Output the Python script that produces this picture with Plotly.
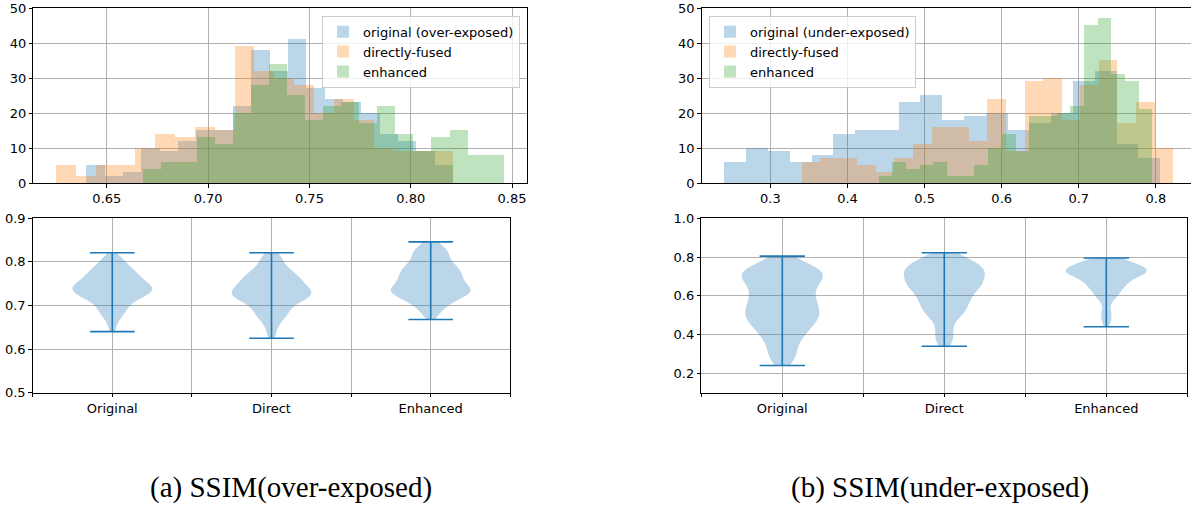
import numpy as np
import plotly.graph_objects as go

# ---------------- data ----------------
series_names_over = ["original (over-exposed)", "directly-fused", "enhanced"]
series_names_under = ["original (under-exposed)", "directly-fused", "enhanced"]
violin_labels = ["Original", "Direct", "Enhanced"]

# over-exposed SSIM histograms: 20 equal bins between min and max of each series
over_original_counts = [5, 2, 3, 10, 9, 12, 15, 15, 22, 38, 32, 41, 27, 24, 23, 20, 14, 12, 9, 5]
over_direct_counts = [5, 2, 5, 5, 10, 14, 13, 16, 15, 39, 32, 30, 28, 20, 24, 18, 10, 9, 9, 9]
over_enhanced_counts = [4, 6, 6, 13, 11, 20, 28, 34, 25, 18, 22, 23, 17, 22, 14, 9, 13, 15, 8, 8]
over_original_range = [0.640, 0.821]
over_direct_range = [0.625, 0.821]
over_enhanced_range = [0.668, 0.846]

# under-exposed SSIM histograms
under_original_counts = [6, 10, 9, 6, 8, 14, 15, 15, 23, 25, 18, 19, 20, 15, 17, 20, 29, 32, 11, 7]
under_direct_counts = [6, 7, 7, 5, 3, 7, 11, 16, 16, 12, 24, 9, 29, 30, 18, 28, 35, 17, 23, 10]
under_enhanced_counts = [2, 6, 4, 5, 6, 2, 2, 5, 10, 14, 9, 19, 19, 20, 22, 45, 47, 31, 29, 21]
under_original_range = [0.240, 0.805]
under_direct_range = [0.340, 0.822]
under_enhanced_range = [0.440, 0.795]

over_hist_xticks = [0.65, 0.70, 0.75, 0.80, 0.85]
under_hist_xticks = [0.3, 0.4, 0.5, 0.6, 0.7, 0.8]
hist_yticks = [0, 10, 20, 30, 40, 50]
over_violin_yticks = [0.5, 0.6, 0.7, 0.8, 0.9]
under_violin_yticks = [0.2, 0.4, 0.6, 0.8, 1.0]
violin_positions = [1, 2, 3]

captions = ["(a) SSIM(over-exposed)", "(b) SSIM(under-exposed)"]

# ---------------- styling ----------------
COLORS = ["rgba(31,119,180,0.3)", "rgba(255,127,14,0.3)", "rgba(44,160,44,0.3)"]
LINE_BLUE = "#1f77b4"
W, H = 1191, 508
FONT = "DejaVu Sans"


def bins(counts, rng):
    n = len(counts)
    edges = np.linspace(rng[0], rng[1], n + 1)
    centers = (edges[:-1] + edges[1:]) / 2
    width = (rng[1] - rng[0]) / n
    return centers, width


fig = go.Figure()

# histograms
hist_sets = [
    ("x", "y", "legend", series_names_over,
     [over_original_counts, over_direct_counts, over_enhanced_counts],
     [over_original_range, over_direct_range, over_enhanced_range]),
    ("x3", "y3", "legend2", series_names_under,
     [under_original_counts, under_direct_counts, under_enhanced_counts],
     [under_original_range, under_direct_range, under_enhanced_range]),
]
for xa, ya, leg, names, counts_list, ranges in hist_sets:
    for name, counts, rng, col in zip(names, counts_list, ranges, COLORS):
        c, w = bins(counts, rng)
        fig.add_trace(go.Bar(x=c, y=counts, width=w, name=name, marker=dict(color=col, line=dict(width=0)),
                             xaxis=xa, yaxis=ya, legend=leg, hoverinfo="skip"))

# violins (samples rebuilt from the histogram counts)
violin_sets = [
    ("x2", "y2", [over_original_counts, over_direct_counts, over_enhanced_counts],
     [over_original_range, over_direct_range, over_enhanced_range]),
    ("x4", "y4", [under_original_counts, under_direct_counts, under_enhanced_counts],
     [under_original_range, under_direct_range, under_enhanced_range]),
]
for xa, ya, counts_list, ranges in violin_sets:
    for pos, label, counts, rng in zip(violin_positions, violin_labels, counts_list, ranges):
        c, w = bins(counts, rng)
        samples = np.concatenate([[rng[0]], np.repeat(c, counts), [rng[1]]])
        bw = float(np.std(samples, ddof=1) * len(samples) ** (-0.2))
        fig.add_trace(go.Violin(x0=pos, y=samples, name=label, xaxis=xa, yaxis=ya, width=0.5,
                                scalemode="width", spanmode="manual", span=list(rng), bandwidth=bw,
                                points=False, box_visible=False, meanline_visible=False,
                                fillcolor=COLORS[0], line=dict(width=0, color="rgba(31,119,180,0)"),
                                showlegend=False, hoverinfo="skip"))
        half = 0.14
        fig.add_trace(go.Scatter(
            x=[pos - half, pos + half, None, pos - half, pos + half, None, pos, pos],
            y=[rng[1], rng[1], None, rng[0], rng[0], None, rng[0], rng[1]],
            mode="lines", line=dict(color=LINE_BLUE, width=1.6), xaxis=xa, yaxis=ya,
            showlegend=False, hoverinfo="skip"))

axis_common = dict(showline=True, linecolor="black", linewidth=1, mirror=True, ticks="outside",
                   ticklen=3.5, tickwidth=0.8, tickcolor="black", showgrid=True, gridcolor="#b0b0b0",
                   gridwidth=0.8, zeroline=False, automargin=False,
                   tickfont=dict(family=FONT, size=13, color="black"))


def px_x(a, b):
    return [a / W, min(b / W, 1.0)]


def px_y(top, bottom):
    return [1 - bottom / H, 1 - top / H]


fig.update_layout(
    width=W, height=H, margin=dict(l=0, r=0, t=0, b=0, autoexpand=False),
    plot_bgcolor="white", paper_bgcolor="white",
    barmode="overlay", violinmode="overlay", bargap=0,
    font=dict(family=FONT, color="black"),
    xaxis=dict(axis_common, domain=px_x(33.3, 527), range=[0.6137, 0.8574], tickvals=over_hist_xticks,
               tickformat=".2f", anchor="y"),
    yaxis=dict(axis_common, domain=px_y(8.3, 183), range=[0, 50], tickvals=hist_yticks, anchor="x"),
    xaxis2=dict(axis_common, domain=px_x(32.7, 510.3), range=[0.5, 3.5],
                tickvals=[0.5, 1, 1.5, 2, 2.5, 3, 3.5],
                ticktext=["", violin_labels[0], "", violin_labels[1], "", violin_labels[2], ""],
                anchor="y2", type="linear"),
    yaxis2=dict(axis_common, domain=px_y(218.3, 392.7), range=[0.5, 0.9], tickvals=over_violin_yticks,
                tickformat=".1f", anchor="x2"),
    xaxis3=dict(axis_common, domain=px_x(701.7, 1191), range=[0.2109, 0.8455], tickvals=under_hist_xticks,
                tickformat=".1f", anchor="y3"),
    yaxis3=dict(axis_common, domain=px_y(8.3, 183), range=[0, 50], tickvals=hist_yticks, anchor="x3"),
    xaxis4=dict(axis_common, domain=px_x(701.3, 1187.3), range=[0.5, 3.5],
                tickvals=[0.5, 1, 1.5, 2, 2.5, 3, 3.5],
                ticktext=["", violin_labels[0], "", violin_labels[1], "", violin_labels[2], ""],
                anchor="y4", type="linear"),
    yaxis4=dict(axis_common, domain=px_y(218.3, 392.7), range=[0.1, 1.0], tickvals=under_violin_yticks,
                tickformat=".1f", anchor="x4"),
    legend=dict(x=520 / W, xanchor="right", y=1 - 15.7 / H, yanchor="top",
                bgcolor="rgba(255,255,255,0.8)", bordercolor="#cccccc", borderwidth=1,
                font=dict(family=FONT, size=13, color="black"), tracegroupgap=0),
    legend2=dict(x=709 / W, xanchor="left", y=1 - 15.7 / H, yanchor="top",
                 bgcolor="rgba(255,255,255,0.8)", bordercolor="#cccccc", borderwidth=1,
                 font=dict(family=FONT, size=13, color="black"), tracegroupgap=0),
    showlegend=True,
)

for text, cx in zip(captions, [291, 940]):
    fig.add_annotation(text=text, x=cx / W, y=1 - 487 / H, xref="paper", yref="paper",
                       xanchor="center", yanchor="middle", showarrow=False,
                       font=dict(family="Liberation Serif", size=29, color="black"))

fig.write_html(
    "out.html",
    config={"displayModeBar": False},
    post_script="document.documentElement.style.margin='0';document.body.style.margin='0';"
                "document.body.style.padding='0';document.body.style.overflow='hidden';",
)
